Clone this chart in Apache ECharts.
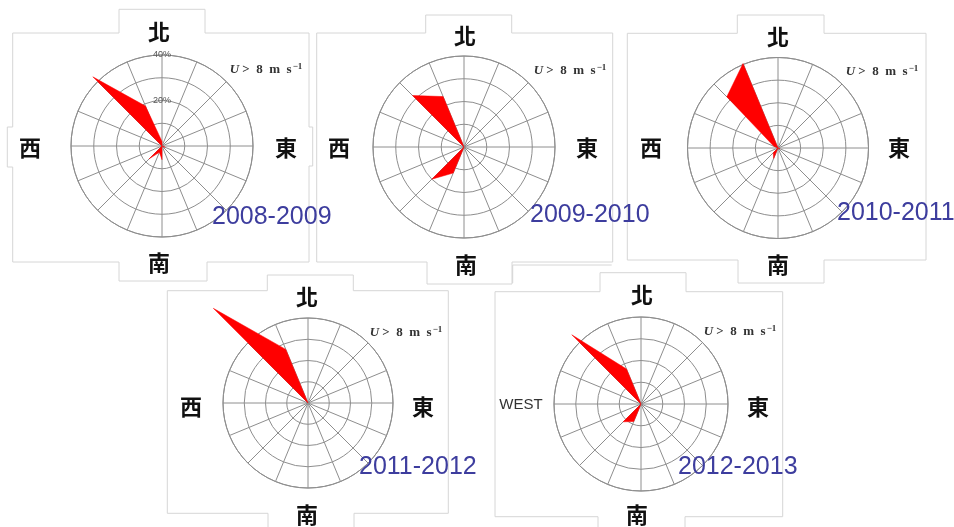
<!DOCTYPE html>
<html><head><meta charset="utf-8">
<script src="https://cdn.jsdelivr.net/npm/echarts@6/dist/echarts.min.js"></script>
<style>html,body{margin:0;padding:0;background:#fff}#c{width:954px;height:527px}</style>
</head><body><div id="c"></div>
<script>
// ---- data ----
const directions = ['N','NNE','NE','ENE','E','ESE','SE','SSE','S','SSW','SW','WSW','W','WNW','NW','NNW'];
const periods = ['2008-2009','2009-2010','2010-2011','2011-2012','2012-2013'];
// frequency (%) of wind direction for U > 8 m/s, order as in `directions`
const freq2008 = [2, 0, 0, 0, 0, 1.5, 0, 0, 6, 3, 8, 0, 0, 0, 43, 19];
const freq2009 = [0, 0, 0, 0, 0, 0, 0, 0, 0, 12.4, 20, 0, 0, 0, 32, 24];
const freq2010 = [0, 0, 0, 0, 0, 1, 0, 0, 0, 5, 3, 0, 0, 2, 32, 40.4];
const freq2011 = [0, 0, 0, 0, 0, 0, 0, 0, 0, 0, 0, 0, 0, 0, 63, 27.3];
const freq2012 = [0, 0, 0, 0, 0, 0, 0, 0, 0, 8.7, 11.6, 0, 0, 0, 45, 17.4];
const radiusTicks = [0, 10, 20, 30, 40];
const labelledTicks = [20, 40];
const compassLabels = ['北', '東', '南', '西'];
const westAltLabel = 'WEST';

// ---- layout ----
const panels = [
  {vals: freq2008, center: [162, 146], r: 91, pct: true,
   n: [159, 32], w: [30, 148], e: [286, 148], s: [159, 263], u: [266, 70], yr: [212, 217]},
  {vals: freq2009, center: [464, 147], r: 91,
   n: [465, 36], w: [339, 148], e: [587, 148], s: [466, 265], u: [570, 71], yr: [530, 215]},
  {vals: freq2010, center: [778, 148], r: 90.5,
   n: [778, 37], w: [651, 148], e: [899, 148], s: [778, 265], u: [882, 72], yr: [837, 213]},
  {vals: freq2011, center: [308, 403], r: 85,
   n: [307, 297], w: [191, 407], e: [423, 407], s: [307, 515], u: [406, 333], yr: [359, 467]},
  {vals: freq2012, center: [641, 404], r: 87, west: true,
   n: [642, 295], w: [521, 405], e: [758, 407], s: [637, 515], u: [740, 332], yr: [678, 467]}
];
const boxes = [
  [[12.7,33],[119,33],[119,9.3],[205,9.3],[205,33],[309,33],[309,127],[312.7,127],[312.7,166],[309,166],[309,262],[207,262],[207,281],[119,281],[119,262],[12.7,262],[12.7,167],[7.3,167],[7.3,127],[12.7,127],[12.7,33]],
  [[316.7,33],[425.7,33],[425.7,15],[511.7,15],[511.7,33],[612.7,33],[612.7,262],[512,262],[512,284],[427,284],[427,262],[316.7,262],[316.7,33]],
  [[627.3,33.3],[737.3,33.3],[737.3,15],[824,15],[824,33.3],[926,33.3],[926,260],[824,260],[824,283],[738,283],[738,260],[627.3,260],[627.3,33.3]],
  [[167.3,290.7],[267.3,290.7],[267.3,275],[353.3,275],[353.3,290.7],[448.3,290.7],[448.3,513.3],[354,513.3],[354,530],[268,530],[268,513.3],[167.3,513.3],[167.3,290.7]],
  [[495,291.7],[600,291.7],[600,272.7],[686,272.7],[686,291.7],[782.7,291.7],[782.7,516.7],[685,516.7],[685,530],[598,530],[598,516.7],[495,516.7],[495,291.7]],
  [[512.7,283],[512.7,265],[611.7,265]]
];

const gridColor = '#8e8e8e';
const polar = [], angleAxis = [], radiusAxis = [], series = [], graphic = [];

boxes.forEach(pts => graphic.push({type: 'polyline', z: 0, shape: {points: pts},
  style: {stroke: '#d6d6d6', fill: null, lineWidth: 1}}));

const cjk = '"Noto Sans CJK TC", "Noto Sans CJK JP", sans-serif';
function txt(pos, text, font) {
  graphic.push({type: 'text', x: pos[0], y: pos[1], z: 10,
    style: Object.assign({text: text, align: 'center', verticalAlign: 'middle', fill: '#111'}, font)});
}
const step = 360 / directions.length;

panels.forEach((p, i) => {
  polar.push({center: p.center, radius: p.r});
  angleAxis.push({polarIndex: i, type: 'value', min: 0, max: 360, interval: step,
    startAngle: 90, clockwise: true,
    axisLine: {show: true, lineStyle: {color: gridColor, width: 1}},
    axisTick: {show: false}, axisLabel: {show: false},
    splitLine: {show: true, lineStyle: {color: gridColor, width: 1}}});
  radiusAxis.push({polarIndex: i, type: 'value', min: radiusTicks[0], max: radiusTicks[radiusTicks.length - 1],
    interval: radiusTicks[1] - radiusTicks[0],
    axisLine: {show: false}, axisTick: {show: false},
    axisLabel: {show: !!p.pct, margin: 0, align: 'center', verticalAlign: 'middle',
      fontSize: 9, color: '#555', fontFamily: 'Liberation Sans, Arial',
      formatter: v => labelledTicks.indexOf(v) >= 0 ? v + '%' : ''},
    splitLine: {show: true, lineStyle: {color: gridColor, width: 1}}});
  const data = directions.map((d, k) => [p.vals[k], k * step]);
  series.push({type: 'custom', coordinateSystem: 'polar', polarIndex: i, data: data,
    clip: false, silent: true, z: 3,
    renderItem: function (params, api) {
      if (params.dataIndex !== 0) return null;
      const pts = data.map(d => api.coord(d));
      return {type: 'polygon', shape: {points: pts},
        style: {fill: '#ff0000', stroke: '#ff0000', lineWidth: 0.5}};
    }});

  const big = {fontFamily: cjk, fontSize: 22, fontWeight: 'bold', fill: '#111'};
  txt(p.n, compassLabels[0], big);
  txt(p.e, compassLabels[1], big);
  txt(p.s, compassLabels[2], big);
  if (p.west) txt(p.w, westAltLabel, {fontFamily: 'Liberation Sans, Arial', fontSize: 15, fill: '#333'});
  else txt(p.w, compassLabels[3], big);
  const serif = 'Liberation Serif, Times New Roman, serif';
  graphic.push({type: 'text', x: p.u[0], y: p.u[1], z: 10, style: {
    text: '{u|U}{b| >  8  m  s}{s|−1}', align: 'center', verticalAlign: 'middle',
    rich: {
      u: {fontFamily: serif, fontStyle: 'italic', fontWeight: 'bold', fontSize: 13, fill: '#333'},
      b: {fontFamily: serif, fontWeight: 'bold', fontSize: 13, fill: '#333'},
      s: {fontFamily: serif, fontWeight: 'bold', fontSize: 9, fill: '#333', verticalAlign: 'top', padding: [0, 0, 6, 1]}
    }}});
  graphic.push({type: 'text', x: p.yr[0], y: p.yr[1], z: 10, style: {
    text: periods[i], align: 'left', verticalAlign: 'middle',
    fontFamily: 'Liberation Sans, Arial', fontSize: 25, fill: '#3d3d9e'}});
});

const chart = echarts.init(document.getElementById('c'), null, {renderer: 'canvas'});
chart.setOption({backgroundColor: '#fff', animation: false,
  polar, angleAxis, radiusAxis, series, graphic});
</script></body></html>
